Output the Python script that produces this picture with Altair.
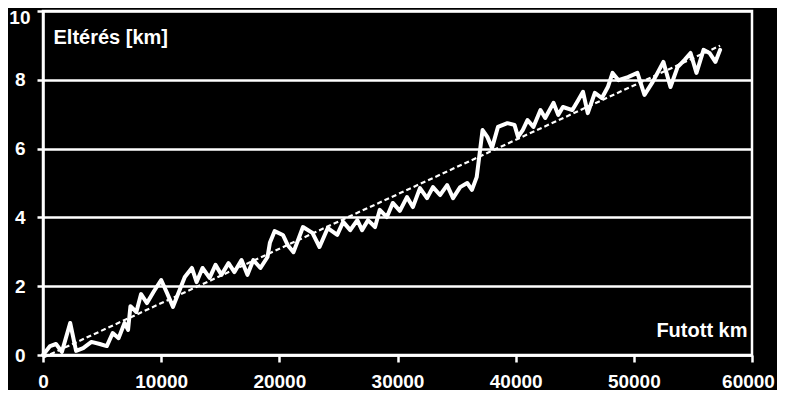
import altair as alt
import pandas as pd

# Futott km (distance run) and Eltérés [km] (deviation)
km = [0, 600, 1100, 1600, 2300, 2800, 3400, 4100, 4800, 5400, 5900, 6400, 6900,
      7200, 7400, 7900, 8300, 8800, 9400, 10000, 10500, 11000, 12000, 12600,
      13000, 13500, 14100, 14600, 15100, 15700, 16200, 16800, 17300, 17800,
      18400, 19000, 19200, 19600, 20300, 20700, 21200, 22000, 22800, 23400,
      24100, 24900, 25400, 26000, 26600, 27000, 27500, 28100, 28500, 29100,
      29600, 30200, 30800, 31300, 31900, 32500, 33000, 33600, 34200, 34700,
      35300, 35900, 36300, 36700, 37200, 37600, 38000, 38500, 39300, 39900,
      40200, 40600, 41000, 41500, 42100, 42500, 43200, 43600, 44000, 44800,
      45300, 45700, 46100, 46700, 47300, 47800, 48200, 48700, 49500, 50300,
      50900, 51600, 52500, 53100, 53700, 54300, 54800, 55300, 55900, 56400,
      56900, 57300]
elteres = [0.00, 0.26, 0.32, 0.09, 0.93, 0.12, 0.20, 0.38, 0.32, 0.26, 0.64,
           0.49, 0.93, 0.73, 1.42, 1.25, 1.77, 1.51, 1.86, 2.18, 1.80, 1.40,
           2.27, 2.53, 2.12, 2.53, 2.24, 2.62, 2.33, 2.67, 2.41, 2.76, 2.33,
           2.76, 2.53, 2.85, 3.26, 3.60, 3.49, 3.20, 2.99, 3.72, 3.55, 3.14,
           3.69, 3.49, 3.87, 3.63, 3.92, 3.63, 3.92, 3.72, 4.22, 4.01, 4.42,
           4.19, 4.59, 4.30, 4.85, 4.56, 4.88, 4.65, 4.94, 4.56, 4.88, 5.00,
           4.80, 5.17, 6.54, 6.34, 6.02, 6.63, 6.74, 6.69, 6.34, 6.54, 6.83,
           6.63, 7.12, 6.89, 7.33, 6.98, 7.21, 7.12, 7.41, 7.65, 7.03, 7.62,
           7.47, 7.79, 8.20, 7.99, 8.08, 8.20, 7.56, 7.94, 8.52, 7.79, 8.37,
           8.58, 8.78, 8.20, 8.87, 8.78, 8.52, 8.87]

x_ticks = [0, 10000, 20000, 30000, 40000, 50000, 60000]
y_ticks = [0, 2, 4, 6, 8, 10]

df = pd.DataFrame({"km": km, "elteres": elteres})

FONT = "Liberation Sans"

x_enc = alt.X(
    "km:Q",
    scale=alt.Scale(domain=[0, 60000], nice=False, zero=False),
    axis=alt.Axis(
        values=x_ticks, format="d", grid=False,
        title="Futott km", titleAngle=0, titleAlign="right",
        titleBaseline="alphabetic", titleX=704, titleY=-19,
        titleFont=FONT, titleFontSize=20, titleFontWeight="bold",
        titleColor="white",
        labelFont=FONT, labelFontSize=19, labelFontWeight="bold",
        labelColor="white", labelPadding=10, labelFlush=False,
        labelOffset={"condition": {"test": "datum.value == 60000", "value": -4},
                     "value": 0},
        tickColor="white", tickSize=7, tickWidth=2.5,
        domainColor="white", domainWidth=2.5,
    ),
)
y_enc = alt.Y(
    "elteres:Q",
    scale=alt.Scale(domain=[0, 10], nice=False),
    axis=alt.Axis(
        values=y_ticks, grid=True, gridColor="white", gridWidth=2.5,
        gridOpacity=1,
        title="Eltérés [km]", titleAngle=0, titleAlign="left",
        titleBaseline="alphabetic", titleX=10, titleY=32,
        titleFont=FONT, titleFontSize=20, titleFontWeight="bold",
        titleColor="white",
        labelFont=FONT, labelFontSize=19, labelFontWeight="bold",
        labelColor="white", labelFlush=False,
        labelPadding={"condition": {"test": "datum.value == 10", "value": 7},
                      "value": 12},
        labelOffset={"condition": {"test": "datum.value == 10", "value": 6},
                     "value": 0},
        tickColor="white", tickSize=6, tickWidth=2.5,
        domainColor="white", domainWidth=2.5,
    ),
)

base = alt.Chart(df)

line = base.mark_line(
    color="white", strokeWidth=4, strokeJoin="round", strokeCap="round"
).encode(x=x_enc, y=y_enc)

trend = base.transform_regression("km", "elteres").mark_line(
    color="white", strokeWidth=2.2, strokeDash=[5, 3]
).encode(x="km:Q", y="elteres:Q")

chart = (
    alt.layer(line, trend)
    .properties(
        width=709, height=344, background="black",
        autosize=alt.AutoSizeParams(type="none"),
        padding={"left": 35, "top": 3, "right": 25, "bottom": 35},
    )
    .configure_view(stroke="white", strokeWidth=2.5)
)

chart.save("out.html", embed_options={"renderer": "svg", "actions": False})
